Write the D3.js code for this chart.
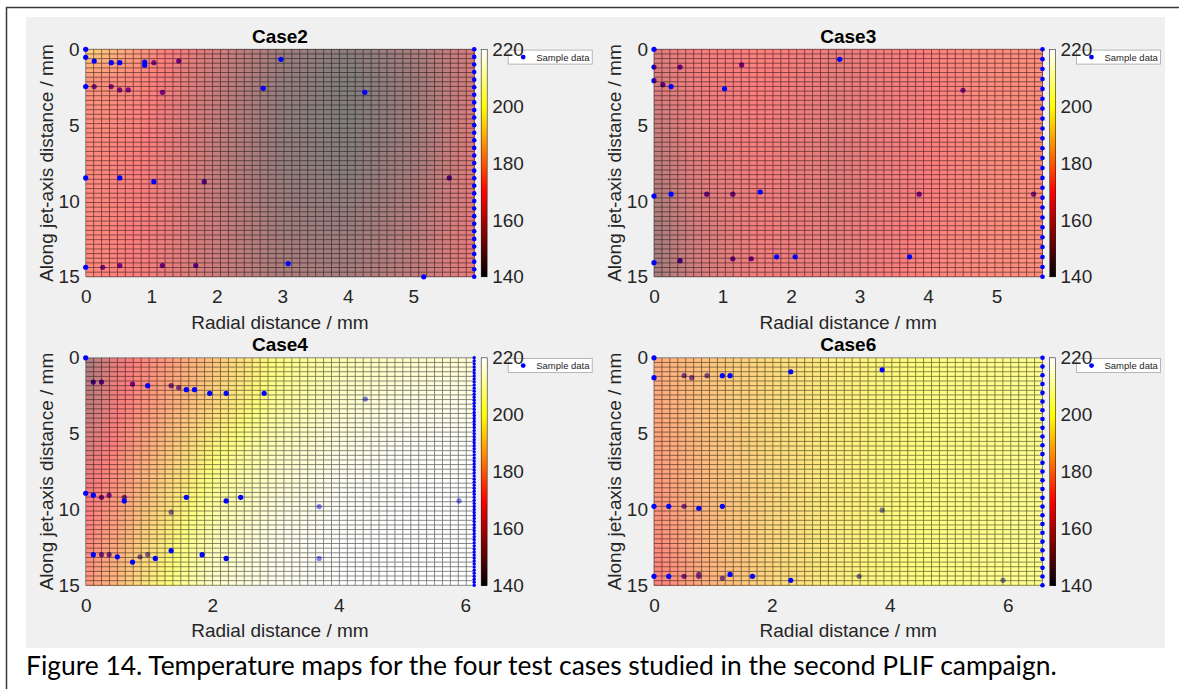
<!DOCTYPE html>
<html lang="en">
<head>
	<meta charset="utf-8">
	<title>Temperature maps</title>
	<script type="text/javascript" src="https://cdn.jsdelivr.net/npm/d3@7/dist/d3.min.js"></script>
	<style>
		body { margin: 0; background: #fff; }
		svg text { font-family: "Liberation Sans", Arial, sans-serif; }
	</style>
</head>
<body>
<script type="text/javascript">
	// ---- values ----
	var caseNames = ["Case2", "Case3", "Case4", "Case6"];
	var radialMax = [5.93, 5.67, 6.14, 6.59];
	var radialTicks = [[0, 1, 2, 3, 4, 5], [0, 1, 2, 3, 4, 5], [0, 2, 4, 6], [0, 2, 4, 6]];
	var axialTicks = [0, 5, 10, 15];
	var tempTicks = [140, 160, 180, 200, 220];
	var tempRange = [140, 220];

	// temperature read at a coarse set of nodes (rows = axial, cols = radial)
	var case2NodesX = [0, 1, 2, 3, 4, 5, 5.93];
	var case2NodesY = [0, 2, 5, 8, 11, 15];
	var case2Temp = [
		[190, 174, 160, 148, 143, 150, 161],
		[176, 171, 158, 146, 141, 148, 161],
		[174, 170, 157, 145, 141, 148, 163],
		[173, 169, 157, 146, 143, 150, 164],
		[173, 169, 158, 148, 146, 153, 165],
		[173, 168, 159, 151, 150, 156, 166]];

	var case3NodesX = [0, 0.6, 1.5, 2.7, 3.8, 4.8, 5.67];
	var case3NodesY = [0, 3, 6, 9, 12, 15];
	var case3Temp = [
		[163, 168, 171, 166, 170, 173, 174],
		[161, 167, 170, 165, 169, 173, 174],
		[157, 165, 169, 164, 169, 173, 174],
		[153, 163, 168, 164, 169, 173, 174],
		[150, 161, 168, 165, 170, 173, 174],
		[149, 160, 168, 166, 171, 173, 174]];

	var case4NodesX = [0, 0.5, 1, 2, 3, 4, 5, 6.14];
	var case4NodesY = [0, 3, 6, 9, 12, 15];
	var case4Temp = [
		[150, 166, 173, 186, 200, 208, 212, 214],
		[155, 168, 176, 190, 204, 212, 216, 217],
		[162, 172, 181, 198, 210, 216, 219, 220],
		[168, 176, 186, 204, 214, 219, 220, 220],
		[172, 180, 191, 209, 217, 220, 220, 220],
		[176, 184, 195, 212, 218, 220, 220, 220]];

	var case6NodesX = [0, 1, 2, 3, 4, 5, 6.59];
	var case6NodesY = [0, 3, 6, 9, 12, 15];
	var case6Temp = [
		[181, 187, 192, 196, 199, 201, 203],
		[180, 187, 192, 196, 199, 201, 203],
		[178, 186, 192, 196, 199, 201, 203],
		[176, 185, 191, 196, 199, 201, 203],
		[173, 184, 191, 196, 199, 201, 203],
		[170, 183, 191, 196, 199, 201, 203]];

	// sample points [radial, axial]; "Above" sit on top of the surface, "Below" show through it
	var case2Above = [[0, 0], [0, 0.53], [0.13, 0.77], [0.39, 0.88], [0.52, 0.88], [0.9, 0.84], [0.9, 1.05],
		[2.98, 0.66], [2.71, 2.57], [4.26, 2.84], [0, 2.46], [0, 8.48], [0.52, 8.48], [1.04, 8.73],
		[0, 14.37], [3.09, 14.13], [5.16, 15]];
	var case2Below = [[1.04, 0.88], [1.42, 0.77], [0.13, 2.46], [0.39, 2.46], [0.52, 2.68], [0.65, 2.68],
		[1.17, 2.84], [1.81, 8.73], [5.55, 8.48], [0.26, 14.37], [0.52, 14.26], [1.17, 14.26], [1.68, 14.26]];
	var case2Edge = [0, 0.5, 1, 1.5, 2, 2.5, 3, 3.5, 4, 4.5, 5, 5.5, 6, 6.5, 7, 7.5, 8, 8.5, 9, 9.5, 10,
		10.5, 11, 11.5, 12, 12.5, 13, 13.5, 14, 14.5, 15];

	var case3Above = [[0, 0], [2.71, 0.66], [1.03, 2.6], [0.25, 2.46], [0, 9.68], [0.25, 9.55], [1.55, 9.41],
		[0, 14.07], [1.79, 13.68], [2.06, 13.68], [3.73, 13.68]];
	var case3Below = [[0, 1.17], [0.38, 1.17], [1.28, 1.03], [0, 2.07], [0.13, 2.33], [4.51, 2.7],
		[0.77, 9.55], [1.15, 9.55], [3.87, 9.55], [5.54, 9.55], [0.38, 13.94], [1.15, 13.81], [1.42, 13.81]];
	var case3Edge = [0, 0.65, 1.3, 1.96, 2.61, 3.26, 3.91, 4.57, 5.22, 5.87, 6.52, 7.17, 7.83, 8.48, 9.13,
		9.78, 10.43, 11.09, 11.74, 12.39, 13.04, 13.7, 14.35, 15];

	var case4Above = [[0, 0], [0.98, 1.84], [1.59, 2.1], [1.72, 2.1], [1.96, 2.34], [2.22, 2.34], [2.82, 2.34],
		[0, 8.93], [0.12, 9.06], [0.61, 9.44], [1.59, 9.2], [2.22, 9.44], [2.45, 9.2],
		[0.12, 12.98], [0.5, 13.12], [0.74, 13.47], [1.1, 13.23], [1.35, 12.72], [1.84, 12.98], [2.22, 13.23]];
	var case4Below = [[0.12, 1.6], [0.25, 1.6], [0.74, 1.73], [1.35, 1.84], [1.47, 1.97], [4.42, 2.72],
		[0.25, 9.2], [0.37, 9.06], [0.61, 9.2], [1.35, 10.18], [3.69, 9.81], [5.9, 9.44],
		[0.25, 12.98], [0.37, 12.98], [0.86, 13.12], [0.98, 12.98], [3.69, 13.23]];
	var case4Edge = [0, 0.2, 0.4, 0.6, 0.8, 1, 1.2, 1.4, 1.6, 1.8, 2, 2.2, 2.4, 2.6, 2.8, 3, 3.2, 3.4, 3.6,
		3.8, 4, 4.2, 4.4, 4.6, 4.8, 5, 5.2, 5.4, 5.6, 5.8, 6, 6.2, 6.4, 6.6, 6.8, 7, 7.2, 7.4, 7.6, 7.8, 8,
		8.2, 8.4, 8.6, 8.8, 9, 9.2, 9.4, 9.6, 9.8, 10, 10.2, 10.4, 10.6, 10.8, 11, 11.2, 11.4, 11.6, 11.8,
		12, 12.2, 12.4, 12.6, 12.8, 13, 13.2, 13.4, 13.6, 13.8, 14, 14.2, 14.4, 14.6, 14.8, 15];

	var case6Above = [[0, 0], [0, 1.31], [1.16, 1.18], [1.29, 1.18], [2.32, 0.92], [3.87, 0.79],
		[0, 9.79], [0.25, 9.79], [0.76, 9.92], [1.16, 9.79],
		[0, 14.41], [0.25, 14.41], [1.29, 14.28], [1.67, 14.41], [2.32, 14.67]];
	var case6Below = [[0.51, 1.18], [0.64, 1.31], [0.9, 1.18], [0.51, 9.79], [3.87, 10.05],
		[0.51, 14.41], [0.76, 14.28], [0.76, 14.41], [1.16, 14.54], [3.48, 14.41], [5.92, 14.67]];
	var case6Edge = [0, 0.58, 1.15, 1.73, 2.31, 2.88, 3.46, 4.04, 4.62, 5.19, 5.77, 6.35, 6.92, 7.5, 8.08,
		8.65, 9.23, 9.81, 10.38, 10.96, 11.54, 12.12, 12.69, 13.27, 13.85, 14.42, 15];

	var captionText = "Figure 14. Temperature maps for the four test cases studied in the second PLIF campaign.";

	var panels = [
		{nx: case2NodesX, ny: case2NodesY, temp: case2Temp, above: case2Above, below: case2Below, edge: case2Edge},
		{nx: case3NodesX, ny: case3NodesY, temp: case3Temp, above: case3Above, below: case3Below, edge: case3Edge},
		{nx: case4NodesX, ny: case4NodesY, temp: case4Temp, above: case4Above, below: case4Below, edge: case4Edge},
		{nx: case6NodesX, ny: case6NodesY, temp: case6Temp, above: case6Above, below: case6Below, edge: case6Edge}];

	// ---- layout ----
	var W = 1179, H = 689;
	var plotW = 388.5, plotH = 227.5;
	var plotLeft = 85.7, plotTop = 49.3;
	var offsets = [[0, 0], [568.3, 0], [0, 308.5], [568.3, 308.5]];
	var meshN = 50;
	var labelFont = "Liberation Sans, Arial, sans-serif";

	// MATLAB "hot" colour map
	function hot(t) {
		var f = (t - tempRange[0]) / (tempRange[1] - tempRange[0]);
		f = Math.max(0, Math.min(1, f));
		var r = Math.min(1, f / 0.375);
		var g = Math.max(0, Math.min(1, (f - 0.375) / 0.375));
		var b = Math.max(0, Math.min(1, (f - 0.75) / 0.25));
		return d3.rgb(r * 255, g * 255, b * 255).formatHex();
	}

	// value of the read node grid at (x, y)
	function fieldAt(p, x, y) {
		var i = Math.max(0, Math.min(p.nx.length - 2, d3.bisectRight(p.nx, x) - 1));
		var j = Math.max(0, Math.min(p.ny.length - 2, d3.bisectRight(p.ny, y) - 1));
		var tx = (x - p.nx[i]) / (p.nx[i + 1] - p.nx[i]);
		var ty = (y - p.ny[j]) / (p.ny[j + 1] - p.ny[j]);
		var g = p.temp;
		return (1 - ty) * ((1 - tx) * g[j][i] + tx * g[j][i + 1]) + ty * ((1 - tx) * g[j + 1][i] + tx * g[j + 1][i + 1]);
	}

	var svg = d3.select("body").append("svg")
		.attr("width", W)
		.attr("height", H);

	// page frame and figure background
	svg.append("rect").attr("x", 26).attr("y", 17).attr("width", 1139).attr("height", 631).attr("fill", "#f0f0f0");
	svg.append("path").attr("d", "M6.5,689V7.5H1179").attr("fill", "none").attr("stroke", "#3a3a3a").attr("stroke-width", 1.5);

	function styleAxis(a) {
		a.select(".domain").remove();
		a.selectAll("text").attr("font-size", 19).attr("fill", "#262626").style("font-family", labelFont);
	}

	function drawPanel(k) {
		var p = panels[k];
		var g = svg.append("g")
			.attr("transform", "translate(" + (offsets[k][0] + plotLeft) + "," + (offsets[k][1] + plotTop) + ")");

		var xScale = d3.scaleLinear().domain([0, radialMax[k]]).range([0, plotW]);
		var yScale = d3.scaleLinear().domain([0, 15]).range([0, plotH]);

		g.append("rect").attr("width", plotW).attr("height", plotH).attr("fill", "#fff");

		// points lying under the surface
		g.append("g").selectAll("circle")
			.data(p.below)
			.enter().append("circle")
			.attr("cx", function(d){ return xScale(d[0]); })
			.attr("cy", function(d){ return yScale(d[1]); })
			.attr("r", 2.6)
			.attr("fill", "#0000ff");

		// surface cells
		var xs = d3.range(meshN).map(function(i){ return i * radialMax[k] / (meshN - 1); });
		var ys = d3.range(meshN).map(function(i){ return i * 15 / (meshN - 1); });
		var cells = [];
		for (var j = 0; j < meshN - 1; j++) {
			for (var i = 0; i < meshN - 1; i++) {
				cells.push({x0: xs[i], x1: xs[i + 1], y0: ys[j], y1: ys[j + 1],
					t: fieldAt(p, (xs[i] + xs[i + 1]) / 2, (ys[j] + ys[j + 1]) / 2)});
			}
		}
		g.append("g")
			.attr("opacity", 0.5)
			.attr("shape-rendering", "crispEdges")
			.selectAll("rect")
			.data(cells)
			.enter().append("rect")
			.attr("x", function(d){ return xScale(d.x0); })
			.attr("y", function(d){ return yScale(d.y0); })
			.attr("width", function(d){ return xScale(d.x1) - xScale(d.x0) + 0.3; })
			.attr("height", function(d){ return yScale(d.y1) - yScale(d.y0) + 0.3; })
			.attr("fill", function(d){ return hot(d.t); });

		// mesh lines
		var mesh = g.append("g").attr("opacity", 0.55).attr("stroke", "#000").attr("stroke-width", 0.85);
		mesh.selectAll("line.v").data(xs).enter().append("line")
			.attr("x1", function(d){ return xScale(d); }).attr("x2", function(d){ return xScale(d); })
			.attr("y1", 0).attr("y2", plotH);
		mesh.selectAll("line.h").data(ys).enter().append("line")
			.attr("y1", function(d){ return yScale(d); }).attr("y2", function(d){ return yScale(d); })
			.attr("x1", 0).attr("x2", plotW);

		// points on top of the surface
		var top = g.append("g").attr("fill", "#0000ff");
		top.selectAll("circle.a").data(p.above).enter().append("circle")
			.attr("cx", function(d){ return xScale(d[0]); })
			.attr("cy", function(d){ return yScale(d[1]); })
			.attr("r", 2.6);
		top.selectAll("circle.e").data(p.edge).enter().append("circle")
			.attr("cx", xScale(radialMax[k]))
			.attr("cy", function(d){ return yScale(d); })
			.attr("r", p.edge.length > 40 ? 1.7 : 2.3);

		// axes
		var xAxis = d3.axisBottom(xScale).tickValues(radialTicks[k]).tickFormat(d3.format("d")).tickSize(0).tickPadding(13);
		var yAxis = d3.axisLeft(yScale).tickValues(axialTicks).tickFormat(d3.format("d")).tickSize(0).tickPadding(6);
		styleAxis(g.append("g").attr("transform", "translate(0," + plotH + ")").call(xAxis));
		styleAxis(g.append("g").call(yAxis));

		g.append("text")
			.attr("x", plotW / 2).attr("y", -6.5)
			.attr("text-anchor", "middle")
			.attr("font-size", 19).attr("font-weight", "bold")
			.text(caseNames[k]);
		g.append("text")
			.attr("x", plotW / 2).attr("y", plotH + 52)
			.attr("text-anchor", "middle")
			.attr("font-size", 19).attr("fill", "#262626")
			.text("Radial distance / mm");
		g.append("text")
			.attr("transform", "translate(" + (46 - plotLeft) + "," + (plotH / 2) + ") rotate(-90)")
			.attr("text-anchor", "middle").attr("dy", "0.35em")
			.attr("font-size", 19).attr("fill", "#262626")
			.text("Along jet-axis distance / mm");

		// legend
		var lg = g.append("g").attr("transform", "translate(" + (plotW + 34) + ",0.8)");
		lg.append("rect").attr("width", 84).attr("height", 14).attr("fill", "#fff").attr("stroke", "#a6a6a6").attr("stroke-width", 0.8);
		lg.append("circle").attr("cx", 15).attr("cy", 7).attr("r", 2.4).attr("fill", "#0000ff");
		lg.append("text").attr("x", 28).attr("y", 10.5).attr("font-size", 9.5).attr("fill", "#262626").text("Sample data");

		// colour bar
		var cbX = plotW + 7, cbW = 6;
		var cScale = d3.scaleLinear().domain(tempRange).range([plotH, 0]);
		var steps = d3.range(tempRange[0], tempRange[1], 0.5);
		g.append("g").attr("shape-rendering", "crispEdges").selectAll("rect")
			.data(steps).enter().append("rect")
			.attr("x", cbX)
			.attr("y", function(d){ return cScale(d + 0.5); })
			.attr("width", cbW)
			.attr("height", function(d){ return cScale(d) - cScale(d + 0.5) + 0.5; })
			.attr("fill", function(d){ return hot(d + 0.25); });
		g.append("rect").attr("x", cbX).attr("y", 0).attr("width", cbW).attr("height", plotH)
			.attr("fill", "none").attr("stroke", "#262626").attr("stroke-width", 0.6);
		var cAxis = d3.axisRight(cScale).tickValues(tempTicks).tickSize(0).tickPadding(5);
		styleAxis(g.append("g").attr("transform", "translate(" + (cbX + cbW) + ",0)").call(cAxis));
	}

	for (var k = 0; k < 4; k++) drawPanel(k);

	// caption, sized to span the same width as the original
	var cap = svg.append("text")
		.attr("x", 26).attr("y", 675)
		.attr("font-size", 24)
		.style("font-family", "Lato, 'Open Sans', sans-serif")
		.attr("fill", "#000")
		.text(captionText);
	var capW = cap.node().getComputedTextLength();
	cap.attr("font-size", 24 * 1031 / capW);
</script>
</body>
</html>
